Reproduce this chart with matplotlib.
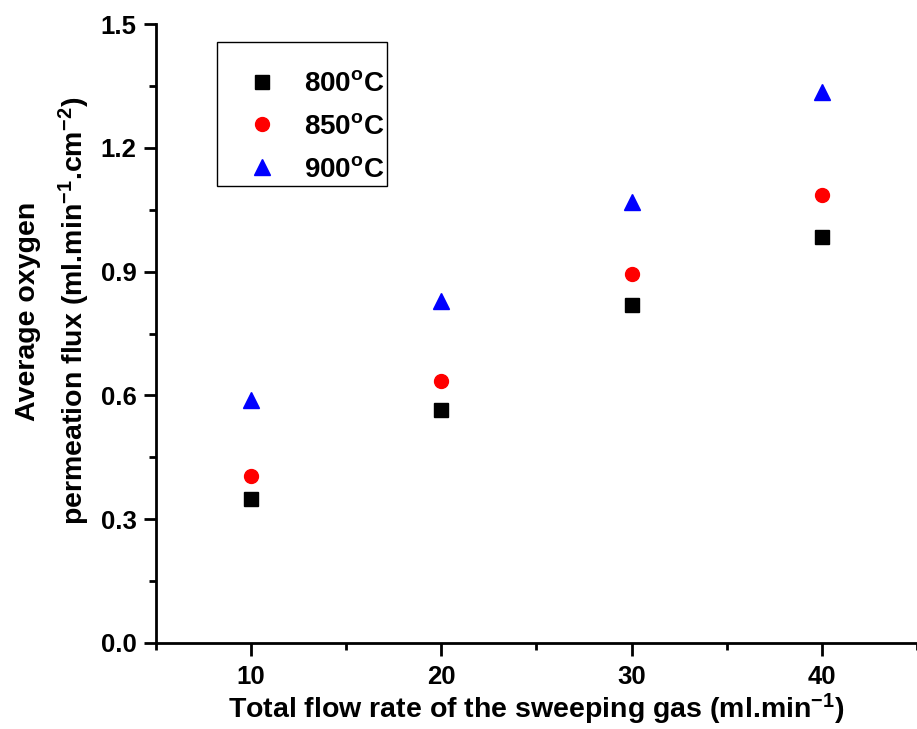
import matplotlib
matplotlib.use('Agg')
import matplotlib.pyplot as plt
from matplotlib.ticker import MultipleLocator, FormatStrFormatter

plt.rcParams['font.family'] = 'Liberation Sans'
plt.rcParams['font.weight'] = 'bold'
plt.rcParams['mathtext.fontset'] = 'custom'
plt.rcParams['mathtext.rm'] = 'Liberation Sans:bold'
plt.rcParams['mathtext.it'] = 'Liberation Sans:bold'
plt.rcParams['mathtext.bf'] = 'Liberation Sans:bold'

# data
flow = [10, 20, 30, 40]
flux_800 = [0.348, 0.564, 0.818, 0.985]
flux_850 = [0.404, 0.636, 0.895, 1.086]
flux_900 = [0.588, 0.830, 1.069, 1.336]
labels = ['800$^{o}$C', '850$^{o}$C', '900$^{o}$C']

fig = plt.figure(figsize=(9.17, 7.29), dpi=100)
ax = fig.add_axes([0.170, 0.118, 0.830, 0.849])

ax.plot(flow, flux_800, 's', color='black', ms=9.5, label=labels[0])
ax.plot(flow, flux_850, 'o', color='red', ms=10, label=labels[1])
ax.plot(flow, flux_900, '^', color='blue', ms=11, label=labels[2])

ax.set_xlim(5, 45)
ax.set_ylim(0, 1.5)
ax.xaxis.set_major_locator(MultipleLocator(10))
ax.xaxis.set_minor_locator(MultipleLocator(5))
ax.yaxis.set_major_locator(MultipleLocator(0.3))
ax.yaxis.set_minor_locator(MultipleLocator(0.15))
ax.yaxis.set_major_formatter(FormatStrFormatter('%.1f'))

for s in ['top', 'right']:
    ax.spines[s].set_visible(False)
for s in ['left', 'bottom']:
    ax.spines[s].set_linewidth(2)

ax.tick_params(which='major', direction='out', length=9, width=2, labelsize=18.5, pad=5)
ax.tick_params(which='minor', direction='out', length=5, width=2)
ax.tick_params(axis='x', which='major', pad=7)

ax.set_xlabel('Total flow rate of the sweeping gas (ml.min$^{-1}$)', fontsize=20.5,
              fontweight='bold', labelpad=2)
ax.set_ylabel('Average oxygen\npermeation flux (ml.min$^{-1}$.cm$^{-2}$)', fontsize=20.5,
              fontweight='bold', linespacing=1.6)
ax.yaxis.set_label_coords(-0.084, 0.536)

# blank small title only pads the top of the box like the original
leg = ax.legend(loc='upper left', bbox_to_anchor=(0.080, 0.971), fontsize=20, frameon=True,
                fancybox=False, edgecolor='black', framealpha=1, handletextpad=0.0,
                borderpad=0.1, labelspacing=0.6, borderaxespad=0, handlelength=3.04,
                title=' ', title_fontsize=7)
leg.get_frame().set_linewidth(1.0)

fig.savefig('out.png', dpi=100)
